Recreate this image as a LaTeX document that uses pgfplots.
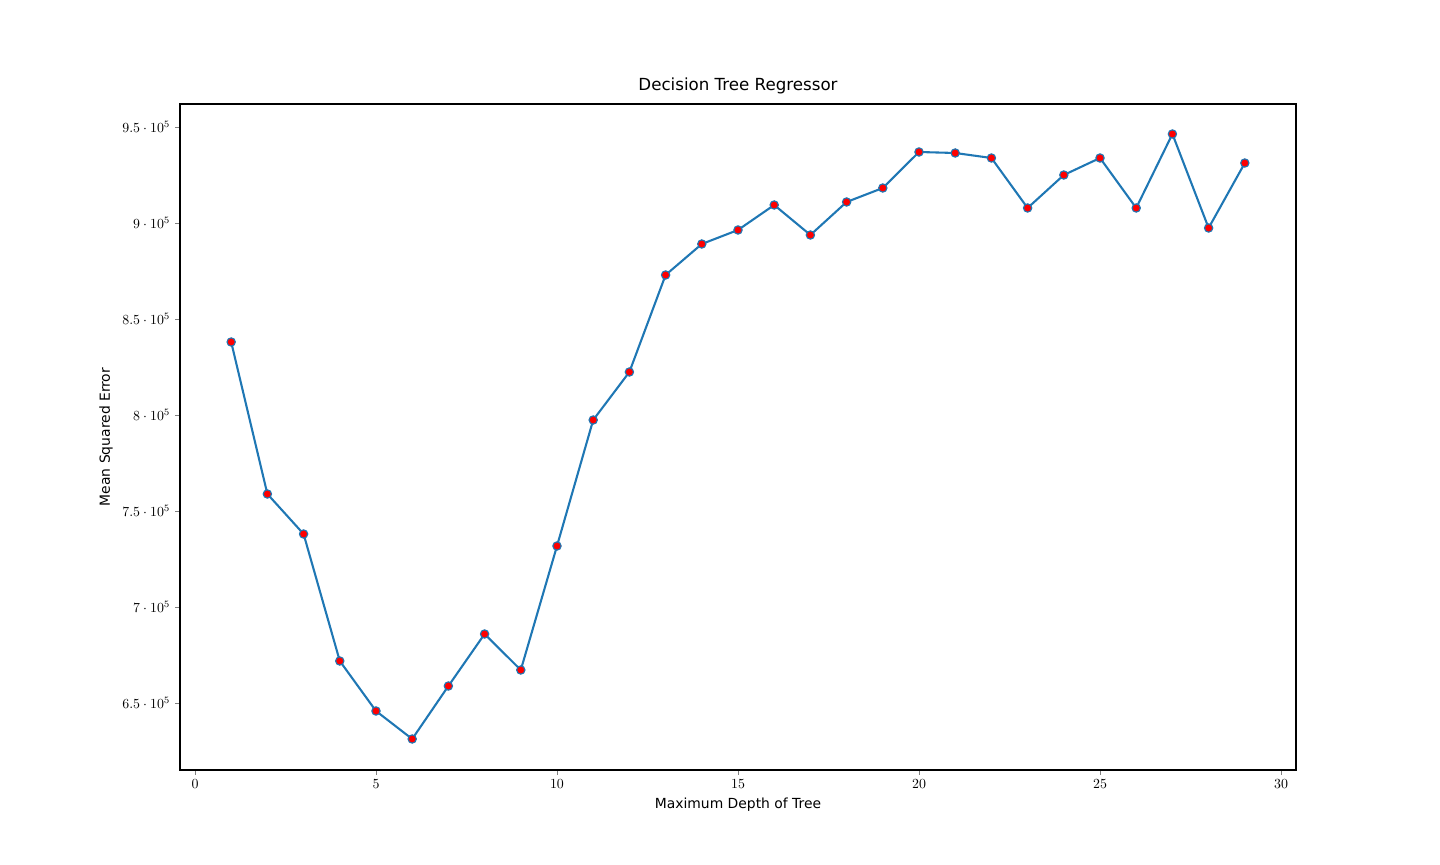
\documentclass[border=0pt]{standalone}
\usepackage{pgfplots}
\pgfplotsset{compat=1.18}
\usepackage{fontspec}
\setmainfont{DejaVu Sans}
\definecolor{mplblue}{HTML}{1F77B4}
\begin{document}
\begin{tikzpicture}
\path[use as bounding box] (0,0) rectangle (1036.8pt,622.08pt);
\begin{axis}[
  at={(129.6pt,67.68pt)}, anchor=south west,
  scale only axis, width=803.52pt, height=479.52pt,
  xmin=-0.414, xmax=30.414, ymin=615104, ymax=961979,
  xtick={0,5,...,30}, ytick={650000,700000,...,950000},
  scaled y ticks=false,
  /pgf/number format/1000 sep={},
  tick align=outside, tick pos=left,
  major tick length=3.5pt,
  ticklabel style={font=\fontsize{10}{12}\selectfont},
  label style={font=\fontsize{10}{12}\selectfont},
  title style={font=\fontsize{12}{14}\selectfont, yshift=-2pt},
  title={Decision Tree Regressor},
  xlabel={Maximum Depth of Tree},
  ylabel={Mean Squared Error},
  axis line style={line width=0.8pt},
]
\addplot[mplblue, line width=1.5pt, mark=*, mark size=3pt,
  mark options={fill=red, draw=mplblue, line width=0.8pt}] coordinates {
(1,838021) (2,758854) (3,738021) (4,671875) (5,645833) (6,631250)
(7,658854) (8,685938) (9,667188) (10,731771) (11,797396) (12,822396)
(13,872917) (14,889063) (15,896354) (16,909375) (17,893750) (18,910938)
(19,918229) (20,936979) (21,936458) (22,933854) (23,907813) (24,925000)
(25,933854) (26,907813) (27,946354) (28,897396) (29,931250)
};
\end{axis}
\end{tikzpicture}
\end{document}
